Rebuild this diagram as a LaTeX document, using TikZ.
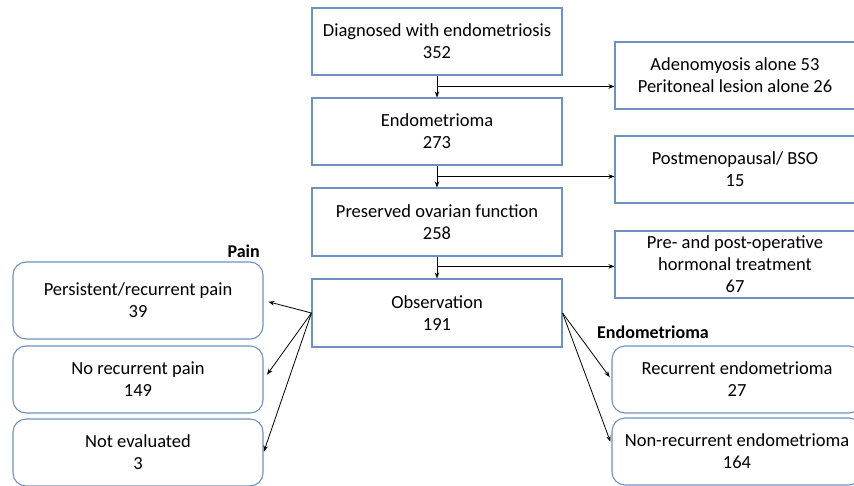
\documentclass[tikz,border=0pt]{standalone}
\usepackage{fontspec}
\setmainfont{Carlito}
\usetikzlibrary{arrows.meta,calc}
\definecolor{boxblue}{RGB}{110,145,195}
\tikzset{
  box/.style={draw=boxblue, line width=1.1pt, minimum width=250pt, minimum height=67pt, align=center, inner sep=2pt, font=\fontsize{18.5}{22}\selectfont, text=black},
  sidebox/.style={box, minimum width=240pt},
  rbox/.style={box, rounded corners=13pt},
  arr/.style={draw=black, line width=0.8pt, -{Stealth[length=6pt,width=4.5pt]}},
  lbl/.style={font=\fontsize{18}{20}\selectfont\bfseries, inner sep=0pt}
}
\begin{document}
\begin{tikzpicture}[x=1pt,y=-1pt]
\useasboundingbox (0,0) rectangle (854,485);
% main column
\node[box] (b1) at (437,41.5) {Diagnosed with endometriosis\\352};
\node[box] (b2) at (437,131.5) {Endometrioma\\273};
\node[box, minimum height=68pt] (b3) at (437,222) {Preserved ovarian function\\258};
\node[box, minimum height=68pt] (obs) at (437,313) {Observation\\191};
% side exclusion boxes
\node[sidebox] (ex1) at (735,75.5) {Adenomyosis alone 53\\Peritoneal lesion alone 26};
\node[sidebox] (ex2) at (735,169.5) {Postmenopausal/ BSO\\15};
\node[sidebox] (ex3) at (735,264.5) {Pre- and post-operative\\hormonal treatment\\67};
% pain outcomes
\node[lbl, anchor=east] (painlbl) at (260,251) {Pain};
\node[rbox, minimum height=77pt] (p1) at (138,300.5) {Persistent/recurrent pain\\39};
\node[rbox] (p2) at (138,379.5) {No recurrent pain\\149};
\node[rbox] (p3) at (138,452.5) {Not evaluated\\3};
% endometrioma outcomes
\node[lbl, anchor=west] (endlbl) at (597,332) {Endometrioma};
\node[rbox] (r1) at (737,379.5) {Recurrent endometrioma\\27};
\node[rbox] (r2) at (737,451.5) {Non-recurrent endometrioma\\164};
% vertical flow
\draw[arr] (b1.south) -- (b2.north);
\draw[arr] (b2.south) -- (b3.north);
\draw[arr] (b3.south) -- (obs.north);
% branches
\coordinate (m1) at ($(b1.south)!0.5!(b2.north)$);
\coordinate (m2) at ($(b2.south)!0.5!(b3.north)$);
\coordinate (m3) at ($(b3.south)!0.45!(obs.north)$);
\draw[arr] (m1) -- (m1 -| ex1.west);
\draw[arr] (m2) -- (m2 -| ex2.west);
\draw[arr] (m3) -- (m3 -| ex3.west);
% outcome arrows
\draw[arr, shorten >=5pt] (obs.west) -- (p1.east);
\draw[arr, shorten >=6pt] (obs.west) -- (p2.east);
\draw[arr, shorten >=1pt] (obs.west) -- (p3.east);
\draw[arr, shorten >=3pt] (obs.east) -- (r1.west);
\draw[arr, shorten >=3pt] (obs.east) -- ([yshift=7pt]r2.west);
\end{tikzpicture}
\end{document}
